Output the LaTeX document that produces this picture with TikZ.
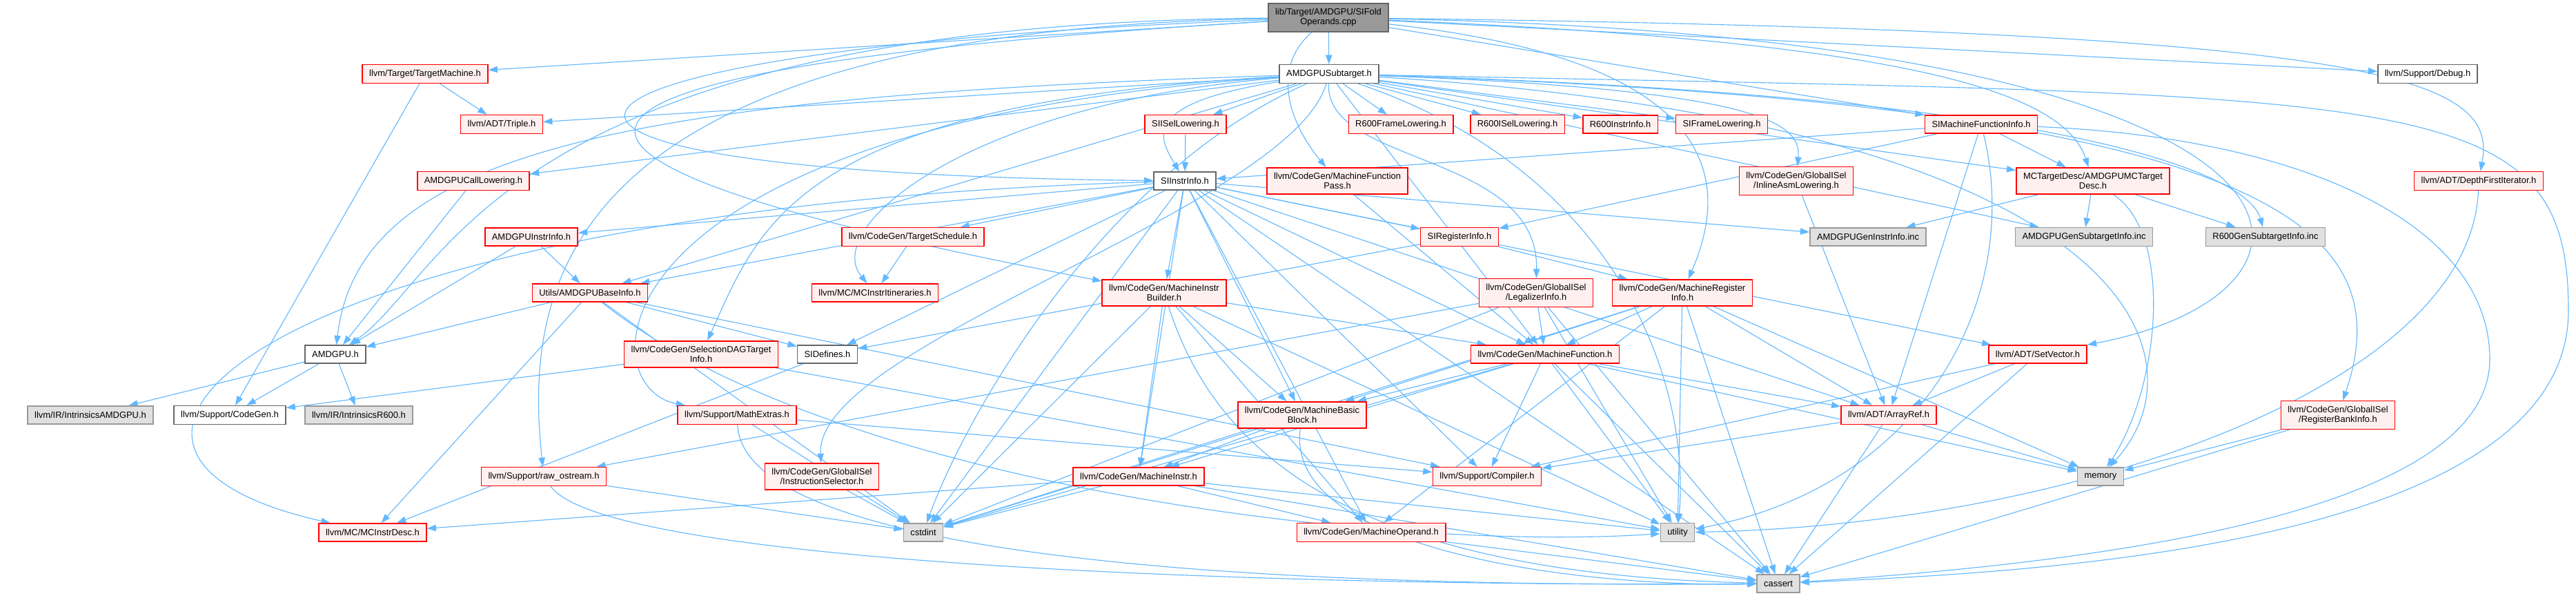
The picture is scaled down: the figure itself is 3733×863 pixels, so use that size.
\documentclass[tikz,border=0pt]{standalone}
\usepackage{fontspec}
\setmainfont{Liberation Sans}
\usetikzlibrary{arrows.meta}
\definecolor{edgeblue}{HTML}{63B8FF}
\definecolor{redline}{HTML}{FF0000}
\definecolor{redfill}{HTML}{FFF0F0}
\definecolor{greyline}{HTML}{999999}
\definecolor{greyfill}{HTML}{E0E0E0}
\definecolor{darkline}{HTML}{666666}
\pgfdeclarelayer{bg}
\pgfsetlayers{bg,main}
\begin{document}
\begin{tikzpicture}[x=0.75pt,y=-0.75pt,
  box/.style={rectangle,font=\fontsize{9.7}{10.7}\selectfont,inner xsep=7.5pt,inner ysep=5.5pt,minimum height=19.5pt,align=center,line width=1.1pt},
  redbox/.style={box,draw=redline,fill=redfill},
  greybox/.style={box,draw=greyline,fill=greyfill},
  whitebox/.style={box,draw=darkline,fill=white},
  rootbox/.style={box,draw=darkline,fill=greyline},
  edge/.style={draw=edgeblue,line width=0.85pt,-{Triangle[length=10pt,width=7pt]}}]
\useasboundingbox (0,0) rectangle (3733,863);
\node[rootbox] (root) at (1925,25.5) {lib/Target/AMDGPU/SIFold\\Operands.cpp};
\node[whitebox] (sub) at (1926,107) {AMDGPUSubtarget.h};
\node[redbox] (tm) at (616,107) {llvm/Target/TargetMachine.h};
\node[whitebox] (dbg) at (3518,107) {llvm/Support/Debug.h};
\node[redbox] (triple) at (727,180) {llvm/ADT/Triple.h};
\node[redbox] (siisel) at (1718,180) {SIISelLowering.h};
\node[redbox] (r6fl) at (2030,180) {R600FrameLowering.h};
\node[redbox] (r6isel) at (2199,180) {R600ISelLowering.h};
\node[redbox] (r6ii) at (2348,180) {R600InstrInfo.h};
\node[redbox] (sifl) at (2495,180) {SIFrameLowering.h};
\node[redbox] (simfi) at (2871,180) {SIMachineFunctionInfo.h};
\node[redbox] (callow) at (686,262) {AMDGPUCallLowering.h};
\node[whitebox] (siii) at (1717,262) {SIInstrInfo.h};
\node[redbox] (mfp) at (1938,262) {llvm/CodeGen/MachineFunction\\Pass.h};
\node[redbox] (inasm) at (2603,262) {llvm/CodeGen/GlobalISel\\/InlineAsmLowering.h};
\node[redbox] (mctd) at (3033,262) {MCTargetDesc/AMDGPUMCTarget\\Desc.h};
\node[redbox] (dfi) at (3592,262) {llvm/ADT/DepthFirstIterator.h};
\node[redbox] (amdii) at (770,343) {AMDGPUInstrInfo.h};
\node[redbox] (tsched) at (1323,343) {llvm/CodeGen/TargetSchedule.h};
\node[redbox] (sireg) at (2115,343) {SIRegisterInfo.h};
\node[greybox] (genii) at (2707,343) {AMDGPUGenInstrInfo.inc};
\node[greybox] (gensub) at (3020,343) {AMDGPUGenSubtargetInfo.inc};
\node[greybox] (r6gensub) at (3283,343) {R600GenSubtargetInfo.inc};
\node[redbox] (base) at (855,424) {Utils/AMDGPUBaseInfo.h};
\node[redbox] (itin) at (1268,424) {llvm/MC/MCInstrItineraries.h};
\node[redbox] (mib) at (1687,424) {llvm/CodeGen/MachineInstr\\Builder.h};
\node[redbox] (legal) at (2226,424) {llvm/CodeGen/GlobalISel\\/LegalizerInfo.h};
\node[redbox] (mri) at (2438,424) {llvm/CodeGen/MachineRegister\\Info.h};
\node[whitebox] (amdgpu) at (486,513) {AMDGPU.h};
\node[redbox] (sdag) at (1016,513) {llvm/CodeGen/SelectionDAGTarget\\Info.h};
\node[whitebox] (sidef) at (1199,513) {SIDefines.h};
\node[redbox] (mf) at (2239,513) {llvm/CodeGen/MachineFunction.h};
\node[redbox] (setvec) at (2953,513) {llvm/ADT/SetVector.h};
\node[greybox] (intamd) at (131,601) {llvm/IR/IntrinsicsAMDGPU.h};
\node[whitebox] (cg) at (333,601) {llvm/Support/CodeGen.h};
\node[greybox] (int600) at (520,601) {llvm/IR/IntrinsicsR600.h};
\node[redbox] (mathx) at (1068,601) {llvm/Support/MathExtras.h};
\node[redbox] (mbb) at (1887,601) {llvm/CodeGen/MachineBasic\\Block.h};
\node[redbox] (arref) at (2737,601) {llvm/ADT/ArrayRef.h};
\node[redbox] (rbi) at (3388,601) {llvm/CodeGen/GlobalISel\\/RegisterBankInfo.h};
\node[redbox] (rawos) at (788,690) {llvm/Support/raw\_ostream.h};
\node[redbox] (isel) at (1191,690) {llvm/CodeGen/GlobalISel\\/InstructionSelector.h};
\node[redbox] (mi) at (1650,690) {llvm/CodeGen/MachineInstr.h};
\node[redbox] (compiler) at (2155,690) {llvm/Support/Compiler.h};
\node[greybox] (memory) at (3044,690) {memory};
\node[redbox] (mcid) at (540,771) {llvm/MC/MCInstrDesc.h};
\node[greybox] (cstdint) at (1338,771) {cstdint};
\node[redbox] (mop) at (1987,771) {llvm/CodeGen/MachineOperand.h};
\node[greybox] (utility) at (2431,771) {utility};
\node[greybox] (cassert) at (2577,845) {cassert};
\begin{pgfonlayer}{bg}
\draw[edge] (root) -- (sub);
\draw[edge] (root) -- (tm);
\draw[edge] (root) -- (dbg);
\draw[edge] (root) -- (simfi);
\draw[edge] (root) .. controls (720,35) and (650,400) .. (amdgpu);
\draw[edge] (root) .. controls (800,45) and (760,420) .. (rawos);
\draw[edge] (root) .. controls (700,70) and (560,250) .. (siii);
\draw[edge] (root) .. controls (780,95) and (560,210) .. (mib);
\draw[edge] (root) .. controls (3450,45) and (3620,110) .. (dfi);
\draw[edge] (root) .. controls (3420,55) and (3440,420) .. (setvec);
\draw[edge] (root) .. controls (2750,60) and (2990,130) .. (mctd);
\draw[edge] (root) .. controls (2520,90) and (2500,280) .. (mri);
\draw[edge] (root) .. controls (1840,100) and (1870,180) .. (mfp);
\draw[edge] (sub) -- (triple);
\draw[edge] (sub) -- (callow);
\draw[edge] (sub) -- (siisel);
\draw[edge] (sub) -- (r6fl);
\draw[edge] (sub) -- (r6isel);
\draw[edge] (sub) -- (r6ii);
\draw[edge] (sub) -- (sifl);
\draw[edge] (sub) -- (base);
\draw[edge] (sub) -- (mf);
\draw[edge] (sub) -- (gensub);
\draw[edge] (sub) -- (mctd);
\draw[edge] (sub) .. controls (1650,150) and (1680,200) .. (siii);
\draw[edge] (sub) .. controls (900,140) and (520,220) .. (amdgpu);
\draw[edge] (sub) .. controls (2560,130) and (2610,180) .. (inasm);
\draw[edge] (sub) .. controls (1920,240) and (2230,220) .. (legal);
\draw[edge] (sub) .. controls (1870,300) and (1180,500) .. (isel);
\draw[edge] (sub) .. controls (3300,150) and (3480,330) .. (rbi);
\draw[edge] (sub) .. controls (1150,150) and (1100,330) .. (sdag);
\draw[edge] (sub) .. controls (1400,150) and (1190,330) .. (itin);
\draw[edge] (sub) .. controls (850,180) and (850,560) .. (mathx);
\draw[edge] (sub) .. controls (3050,140) and (3260,260) .. (r6gensub);
\draw[edge] (sub) .. controls (3500,140) and (3722,120) .. (3722,450) .. controls (3722,800) and (2900,830) .. (cassert);
\draw[edge] (sub) .. controls (1600,250) and (1400,600) .. (cstdint);
\draw[edge] (sub) .. controls (3100,180) and (3200,520) .. (memory);
\draw[edge] (sub) .. controls (2350,250) and (2450,560) .. (utility);
\draw[edge] (siii) -- (amdii);
\draw[edge] (siii) -- (tsched);
\draw[edge] (siii) -- (mib);
\draw[edge] (siii) -- (sireg);
\draw[edge] (siii) -- (genii);
\draw[edge] (siii) -- (base);
\draw[edge] (siii) -- (sidef);
\draw[edge] (siii) -- (setvec);
\draw[edge] (siii) -- (arref);
\draw[edge] (siii) -- (mbb);
\draw[edge] (siii) -- (mf);
\draw[edge] (siii) -- (mi);
\draw[edge] (siii) -- (mop);
\draw[edge] (siii) -- (compiler);
\draw[edge] (siii) -- (cassert);
\draw[edge] (siii) -- (cstdint);
\draw[edge] (siii) .. controls (400,300) and (0,650) .. (mcid);
\draw[edge] (simfi) -- (siii);
\draw[edge] (simfi) -- (sireg);
\draw[edge] (simfi) -- (mctd);
\draw[edge] (simfi) -- (arref);
\draw[edge] (simfi) .. controls (3350,200) and (3608,330) .. (3608,520) .. controls (3608,760) and (2950,820) .. (cassert);
\draw[edge] (simfi) .. controls (2930,420) and (2800,700) .. (utility);
\draw[edge] (mctd) -- (genii);
\draw[edge] (mctd) -- (gensub);
\draw[edge] (mctd) -- (r6gensub);
\draw[edge] (mctd) .. controls (3150,340) and (3130,560) .. (memory);
\draw[edge] (dfi) .. controls (3580,560) and (3000,760) .. (utility);
\draw[edge] (tm) -- (triple);
\draw[edge] (tm) -- (cg);
\draw[edge] (amdgpu) -- (intamd);
\draw[edge] (amdgpu) -- (cg);
\draw[edge] (amdgpu) -- (int600);
\draw[edge] (callow) -- (amdgpu);
\draw[edge] (amdii) -- (amdgpu);
\draw[edge] (amdii) -- (base);
\draw[edge] (base) -- (amdgpu);
\draw[edge] (base) -- (sidef);
\draw[edge] (base) -- (mcid);
\draw[edge] (base) -- (compiler);
\draw[edge] (base) -- (cstdint);
\draw[edge] (base) .. controls (1200,700) and (2000,800) .. (utility);
\draw[edge] (tsched) -- (itin);
\draw[edge] (siisel) -- (siii);
\draw[edge] (mfp) -- (mf);
\draw[edge] (inasm) -- (arref);
\draw[edge] (sireg) -- (mri);
\draw[edge] (sireg) -- (sidef);
\draw[edge] (sidef) -- (mcid);
\draw[edge] (mib) -- (mbb);
\draw[edge] (mib) -- (mf);
\draw[edge] (mib) -- (mi);
\draw[edge] (mib) -- (mop);
\draw[edge] (mib) -- (cstdint);
\draw[edge] (mib) -- (utility);
\draw[edge] (mib) .. controls (1760,650) and (1950,830) .. (cassert);
\draw[edge] (legal) -- (mf);
\draw[edge] (legal) -- (rawos);
\draw[edge] (legal) -- (cassert);
\draw[edge] (legal) -- (cstdint);
\draw[edge] (legal) -- (utility);
\draw[edge] (mri) -- (arref);
\draw[edge] (mri) -- (mbb);
\draw[edge] (mri) -- (mf);
\draw[edge] (mri) -- (mop);
\draw[edge] (mri) -- (cassert);
\draw[edge] (mri) -- (cstdint);
\draw[edge] (mri) -- (memory);
\draw[edge] (mri) -- (utility);
\draw[edge] (mf) -- (arref);
\draw[edge] (mf) -- (mbb);
\draw[edge] (mf) -- (mi);
\draw[edge] (mf) -- (compiler);
\draw[edge] (mf) -- (cassert);
\draw[edge] (mf) -- (cstdint);
\draw[edge] (mf) -- (memory);
\draw[edge] (mf) -- (utility);
\draw[edge] (mbb) -- (mi);
\draw[edge] (mbb) -- (cstdint);
\draw[edge] (mbb) .. controls (1860,800) and (2300,850) .. (cassert);
\draw[edge] (mi) -- (mop);
\draw[edge] (mi) -- (mcid);
\draw[edge] (mi) -- (cassert);
\draw[edge] (mi) -- (cstdint);
\draw[edge] (mi) -- (utility);
\draw[edge] (mop) -- (cassert);
\draw[edge] (setvec) -- (arref);
\draw[edge] (setvec) -- (compiler);
\draw[edge] (setvec) -- (cassert);
\draw[edge] (arref) -- (compiler);
\draw[edge] (arref) -- (cassert);
\draw[edge] (arref) -- (memory);
\draw[edge] (rbi) -- (cassert);
\draw[edge] (rbi) -- (memory);
\draw[edge] (mathx) -- (compiler);
\draw[edge] (mathx) -- (cstdint);
\draw[edge] (mathx) .. controls (1080,830) and (2000,850) .. (cassert);
\draw[edge] (rawos) -- (cstdint);
\draw[edge] (rawos) .. controls (880,820) and (1900,850) .. (cassert);
\draw[edge] (isel) -- (cstdint);
\draw[edge] (sdag) -- (cg);
\draw[edge] (sdag) -- (utility);
\end{pgfonlayer}
\end{tikzpicture}
\end{document}
